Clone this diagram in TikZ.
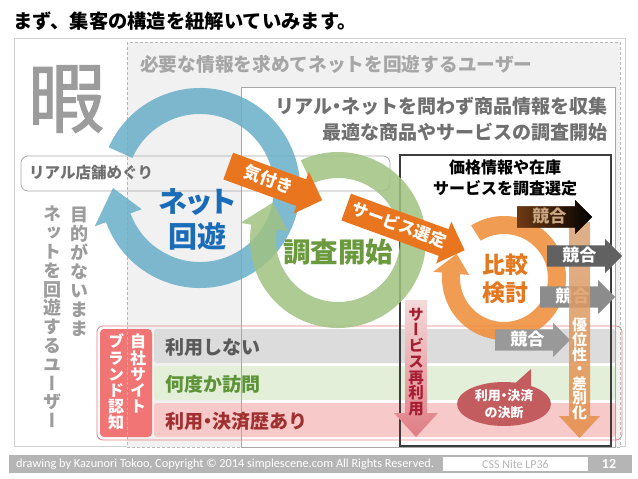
\documentclass[tikz,border=0pt]{standalone}
\usepackage{fontspec}
\setmainfont{Noto Sans CJK JP}
\newfontfamily\vjp{Noto Sans CJK JP}[RawFeature=+vert]
\newfontfamily\pjp{Noto Sans CJK JP}[RawFeature=+palt]
\newfontfamily\idlefont{Noto Sans CJK JP}[FakeBold=1.4]
\newfontfamily\footfont{Carlito}
\usetikzlibrary{positioning}
\usetikzlibrary{shapes.arrows}

\definecolor{panelgray}{HTML}{F1F1F1}
\definecolor{outergray}{HTML}{D0D0D0}
\definecolor{dashgray}{HTML}{B8B8B8}
\definecolor{midgray}{HTML}{A8A8A8}
\definecolor{boxblack}{HTML}{3C3C3C}
\definecolor{headgray}{HTML}{A6A6A6}
\definecolor{midtext}{HTML}{707070}
\definecolor{idlegray}{HTML}{9C9C9C}
\definecolor{ringblue}{HTML}{68AEC8}
\definecolor{ringgreen}{HTML}{A0C382}
\definecolor{ringorange}{HTML}{EF8B35}
\definecolor{arroworange}{HTML}{E9761E}
\definecolor{netblue}{HTML}{1B6CB8}
\definecolor{searchgreen}{HTML}{6B9A3E}
\definecolor{compareorange}{HTML}{E5771F}
\definecolor{bandgray}{HTML}{DCDCDC}
\definecolor{bandgreen}{HTML}{E3EFD9}
\definecolor{bandpink}{HTML}{F7C9C9}
\definecolor{bandtxtgray}{HTML}{5A5A5A}
\definecolor{bandtxtgreen}{HTML}{5E9438}
\definecolor{bandtxtred}{HTML}{A03030}
\definecolor{labelred}{HTML}{F27575}
\definecolor{brandline}{HTML}{E57E86}
\definecolor{reusetop}{HTML}{F4DADA}
\definecolor{reusebot}{HTML}{E07C84}
\definecolor{reusetext}{HTML}{A51E32}
\definecolor{edgetop}{HTML}{D9A376}
\definecolor{edgebot}{HTML}{E68D45}
\definecolor{bubblered}{HTML}{C25C5E}
\definecolor{brown}{HTML}{6E3A14}
\definecolor{browntext}{HTML}{C9A582}
\definecolor{footgray}{HTML}{B5B5B5}

\begin{document}
\begin{tikzpicture}
    [x=1pt, y=-1pt, every node/.style={inner sep=0pt},
    frameline/.style={draw=#1, line width=0.7pt},
    ring/.style={fill=#1, fill opacity=0.85},
    band/.style={fill=#1, rounded corners=3pt},
    bandtext/.style={anchor=west, text=#1, font=\bfseries\fontsize{19}{19}\selectfont},
    vtext/.style 2 args={align=center, font=\vjp\bfseries\fontsize{#1}{#2}\selectfont},
    kyogo/.style={single arrow, fill=#1, minimum height=75pt, anchor=west,
      single arrow head extend=6.5pt, inner xsep=4pt, inner ysep=3pt,
      text height=13pt, text depth=2pt, text=white,
      font=\bfseries\fontsize{17}{17}\selectfont},
    flow/.style={single arrow, fill=arroworange, rotate=-20, anchor=west,
      single arrow head extend=8pt, inner xsep=5pt, inner ysep=6.5pt,
      text height=12.5pt, text depth=2.5pt, text=white,
      font=\bfseries\fontsize{#1}{#1}\selectfont}]

    \def\ringarrow#1#2#3#4#5#6#7#8{%
      \fill[ring=#1] ([shift={(#2)}]#3:#6) arc[start angle=#3, end angle=#4, radius=#6]
        -- ([shift={(#2)}]#4:{#6+#7}) -- ([shift={(#2)}]{#4+#8}:{(#5+#6)/2})
        -- ([shift={(#2)}]#4:{#5-#7}) -- ([shift={(#2)}]#4:#5)
        arc[start angle=#4, end angle=#3, radius=#5] -- cycle;}

    \useasboundingbox (0,0) rectangle (638,479);
    \fill[white] (0,0) rectangle (638,479);

    % Frames
    \draw[frameline=outergray, fill=white] (14,38) rectangle (625,446);
    \draw[frameline=dashgray, dash pattern=on 3pt off 2pt, fill=panelgray] (127,42) rectangle (620,447);
    \draw[frameline=midgray, fill=white] (241,87) rectangle (615,447);
    \draw[frameline=boxblack, line width=1.3pt, fill=white] (400,155) rectangle (611,446);
    \draw[frameline=midgray, rounded corners=7pt] (21,156) rectangle (390,191);

    \node[anchor=west, font=\bfseries\fontsize{19.3}{19.3}\selectfont] (title) at (13,21)
      {まず、集客の構造を紐解いていみます。};
    \node[anchor=west, text=headgray, font=\bfseries\fontsize{18.7}{18.7}\selectfont] (seeker) at (140,64.5)
      {必要な情報を求めてネットを回遊するユーザー};
    \node[anchor=east, text=midtext, align=right, font=\bfseries\fontsize{19}{26}\selectfont] (collect) at (608,119)
      {リアル{\pjp ・}ネットを問わず商品情報を収集\\最適な商品やサービスの調査開始};
    \node[align=center, font=\bfseries\fontsize{16}{20.5}\selectfont] (select) at (505,178)
      {価格情報や在庫\\サービスを調査選定};
    \node[text=idlegray, font=\idlefont\fontsize{77}{77}\selectfont] (idle) at (66.5,99) {暇};
    \node[anchor=west, text=midtext, font=\bfseries\fontsize{15.5}{15.5}\selectfont] (store) at (29,173)
      {リアル店舗めぐり};
    \node[vtext={18}{19}, text=idlegray, anchor=north] (aimless) at (79,207)
      {目\\的\\が\\な\\い\\ま\\ま};
    \node[vtext={18}{18.8}, text=idlegray, anchor=north] (wander) at (52,206)
      {ネ\\ッ\\ト\\を\\回\\遊\\す\\る\\ユ\\ー\\ザ\\ー};

    % Brand awareness bands
    \draw[brandline, line width=0.8pt, rounded corners=6pt] (97,326) rectangle (622,440);
    \fill[labelred, rounded corners=4pt] (100,329) rectangle (152,437);
    \fill[band=bandgray] (154,329) rectangle (616,363);
    \fill[band=bandgreen] (154,366) rectangle (616,400);
    \fill[band=bandpink] (154,403) rectangle (616,437);
    \draw[frameline=dashgray, dash pattern=on 3pt off 2pt] (127,42) rectangle (620,447);
    \draw[frameline=midgray] (241,87) rectangle (615,447);
    \draw[frameline=boxblack, line width=1.3pt] (400,155) rectangle (611,446);

    \node[vtext={16}{16.2}, text=white, anchor=north] (ownsite) at (138,334) {自\\社\\サ\\イ\\ト};
    \node[vtext={16}{16.2}, text=white, anchor=north] (brand) at (116,334) {ブ\\ラ\\ン\\ド\\認\\知};
    \node[bandtext=bandtxtgray] (nouse) at (165,347) {利用しない};
    \node[bandtext=bandtxtgreen] (visit) at (165,384) {何度か訪問};
    \node[bandtext=bandtxtred] (paid) at (165,421) {利用{\pjp ・}決済歴あり};

    % Cycles
    \ringarrow{ringblue}{200,188}{204}{520}{74}{100}{12}{20}
    \ringarrow{ringgreen}{338,240}{245}{550}{62}{88}{11}{20}
    \ringarrow{ringorange}{504,278}{238}{545}{44}{62}{9}{22}

    \node[text=netblue, align=center, font=\pjp\bfseries\fontsize{29}{35}\selectfont] (net) at (197,219)
      {ネット\\回遊};
    \node[text=searchgreen, font=\bfseries\fontsize{27.5}{27.5}\selectfont] (search) at (338,252) {調査開始};
    \node[text=compareorange, align=center, font=\bfseries\fontsize{23}{28}\selectfont] (compare) at (505,279)
      {比較\\検討};

    \node[flow=17, minimum height=100pt] (notice) at (228,166) {気付き};
    \node[flow=16.5, minimum height=126pt] (choose) at (346,207) {サービス選定};

    % Re-use and differentiation
    \shade[top color=reusetop, bottom color=reusebot] (405,300) -- (427,300) -- (427,413) -- (438,413)
      -- (416,437) -- (394,413) -- (405,413) -- cycle;
    \node[vtext={15.5}{15.7}, text=reusetext] (reuse) at (416,362) {サ\\ー\\ビ\\ス\\再\\利\\用};

    \node[kyogo=black!45] (rival3) at (540,297) {競合};
    \node[kyogo=black!40] (rival4) at (495,340) {競合};
    \shade[top color=edgetop, bottom color=edgebot, fill opacity=0.85] (569,222) -- (590,222) -- (590,416)
      -- (600,416) -- (579.5,438) -- (559,416) -- (569,416) -- cycle;
    \node[vtext={15}{14.6}, text=white] (edge) at (579.5,369) {優\\位\\性\\・\\差\\別\\化};
    \node[kyogo=brown, left color=brown, right color=black, text=browntext] (rival1) at (517,217) {競合};
    \node[kyogo=black!62] (rival2) at (547,256) {競合};

    % Decision bubble
    \fill[bubblered] (504,404) ellipse[x radius=47, y radius=22];
    \fill[bubblered] (511,387) -- (531,369) -- (531,393) -- cycle;
    \node[text=white, align=center, font=\bfseries\fontsize{13}{17}\selectfont] (decide) at (504,404)
      {利用{\pjp ・}決済\\の決断};

    % Footer
    \fill[footgray] (9,455) rectangle (632,473);
    \fill[white] (443,457) rectangle (588,471);
    \node[anchor=west, text=white, font=\footfont\fontsize{12.3}{12.3}\selectfont] (credit) at (16,464)
      {drawing by Kazunori Tokoo, Copyright © 2014 simplescene.com All Rights Reserved.};
    \node[text=footgray, font=\footfont\fontsize{12}{12}\selectfont] (event) at (515.5,464) {CSS Nite LP36};
    \node[text=white, font=\footfont\bfseries\fontsize{14}{14}\selectfont] (page) at (609,464) {12};
\end{tikzpicture}
\end{document}
